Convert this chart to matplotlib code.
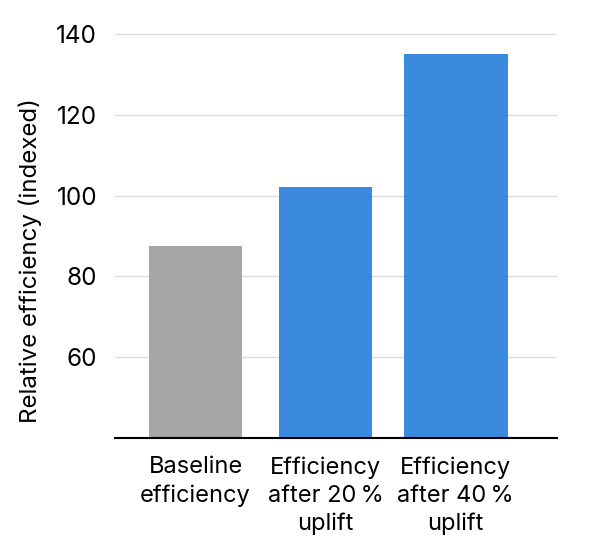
import matplotlib.pyplot as plt

# data
categories = ["Baseline\nefficiency", "Efficiency\nafter 20\u2009%\nuplift", "Efficiency\nafter 40\u2009%\nuplift"]
values = [87.4, 102.0, 135.0]
colors = ["#a6a6a6", "#3b8ae0", "#3b8ae0"]
bar_widths = [0.72, 0.72, 0.8]
yticks = [60, 80, 100, 120, 140]

plt.rcParams['font.family'] = ['Inter', 'DejaVu Sans']

fig = plt.figure(figsize=(5.97, 5.55), dpi=100)
ax = fig.add_axes([115 / 597, 1 - 438 / 555, (557 - 115) / 597, (438 - 25) / 555])

x = list(range(len(values)))
ax.bar(x, values, width=bar_widths, color=colors, zorder=2)

ax.set_ylim(40, 142.2)
ax.set_xlim(-0.62, 2.78)
ax.set_yticks(yticks)
ax.set_xticks(x)
ax.set_xticklabels(categories, fontsize=17, linespacing=1.36)
ax.tick_params(axis='y', labelsize=17.5, length=0, pad=13)
ax.tick_params(axis='x', length=0, pad=13)
ax.grid(axis='y', color='#dddddd', linewidth=1, zorder=0)

for side in ['left', 'right', 'top']:
    ax.spines[side].set_visible(False)
ax.spines['bottom'].set_color('black')
ax.spines['bottom'].set_linewidth(1.5)
ax.spines['bottom'].set_zorder(3)

ax.set_ylabel("Relative efficiency (indexed)", fontsize=17.3, labelpad=10, y=0.43)

fig.savefig("out.png", dpi=100)
